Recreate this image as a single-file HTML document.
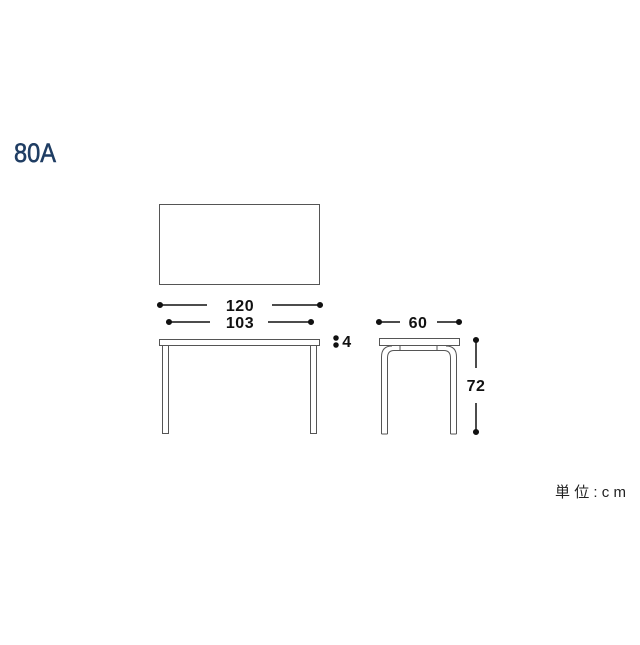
<!DOCTYPE html>
<html><head><meta charset="utf-8"><style>
html,body{margin:0;padding:0;background:#fff;}
</style></head><body>
<svg width="640" height="640" viewBox="0 0 640 640" xmlns="http://www.w3.org/2000/svg">
<rect width="640" height="640" fill="#fff"/>
<text x="14" y="162" font-family="Liberation Sans, sans-serif" font-size="27" fill="#1f3d63" stroke="#1f3d63" stroke-width="0.6" textLength="42" lengthAdjust="spacingAndGlyphs">80A</text>
<rect x="159.5" y="204.5" width="160" height="80" fill="none" stroke="#555" stroke-width="1"/>
<g stroke="#111" stroke-width="1.5" fill="#111">
<line x1="160" y1="305" x2="207" y2="305"/><line x1="272" y1="305" x2="320" y2="305"/>
<circle cx="160" cy="305" r="2.3"/><circle cx="320" cy="305" r="2.3"/>
<line x1="169" y1="322" x2="210" y2="322"/><line x1="268" y1="322" x2="311" y2="322"/>
<circle cx="169" cy="322" r="2.3"/><circle cx="311" cy="322" r="2.3"/>
<line x1="378" y1="322" x2="400" y2="322"/><line x1="437" y1="322" x2="460" y2="322"/>
<circle cx="379" cy="322" r="2.3"/><circle cx="459" cy="322" r="2.3"/>
<line x1="476" y1="340" x2="476" y2="368"/><line x1="476" y1="403" x2="476" y2="432"/>
<circle cx="476" cy="340" r="2.3"/><circle cx="476" cy="432" r="2.3"/>
<circle cx="336" cy="338" r="2"/><circle cx="336" cy="345" r="2"/>
</g>
<g font-family="Liberation Sans, sans-serif" font-size="16" font-weight="bold" fill="#111" text-anchor="middle" letter-spacing="0.5">
<text x="240" y="311">120</text>
<text x="240" y="328">103</text>
<text x="418" y="328">60</text>
<text x="476" y="391">72</text>
<text x="347" y="347">4</text>
</g>
<g fill="none" stroke="#555" stroke-width="1">
<rect x="159.5" y="339.5" width="160" height="6"/>
<rect x="162.5" y="345.5" width="6" height="88"/>
<rect x="310.5" y="345.5" width="6" height="88"/>
<rect x="379.5" y="338.5" width="80" height="7"/>
<path d="M381.5 434 V357 Q381.5 346 392 346"/>
<path d="M387.5 434 V358 Q387.5 350.5 394 350.5 H444 Q450.5 350.5 450.5 358 V434"/>
<path d="M456.5 434 V357 Q456.5 346 446 346"/>
<line x1="381.5" y1="434" x2="387.5" y2="434"/>
<line x1="450.5" y1="434" x2="456.5" y2="434"/>
<line x1="400" y1="346" x2="400" y2="350"/>
<line x1="437" y1="346" x2="437" y2="350"/>
</g>
<text x="555" y="497" font-family="Liberation Sans, 'Noto Sans CJK JP', sans-serif" font-size="15" fill="#222" textLength="71">単位:cm</text>
</svg>
</body></html>
